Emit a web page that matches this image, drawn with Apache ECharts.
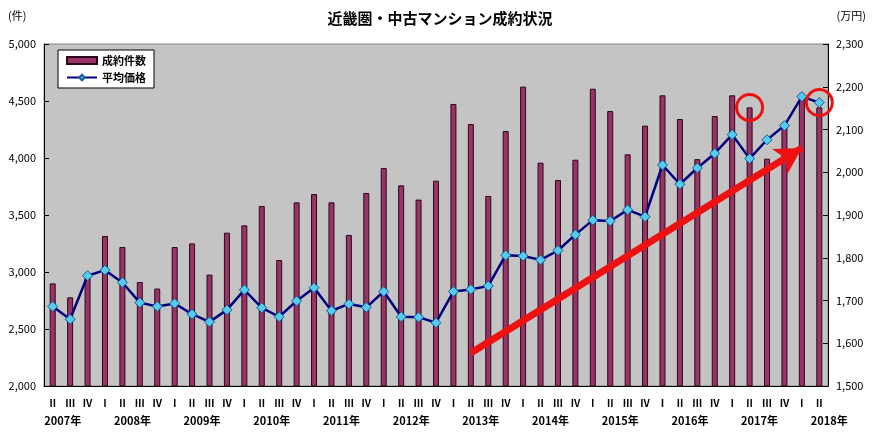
<!DOCTYPE html>
<html><head><meta charset="utf-8">
<script src="https://cdn.jsdelivr.net/npm/echarts@6/dist/echarts.min.js"></script>
<style>html,body{margin:0;padding:0;background:#fff}#c{width:880px;height:437px}</style>
</head><body><div id="c"></div>
<script>
const quarters = ["Ⅱ","Ⅲ","Ⅳ","Ⅰ","Ⅱ","Ⅲ","Ⅳ","Ⅰ","Ⅱ","Ⅲ","Ⅳ","Ⅰ","Ⅱ","Ⅲ","Ⅳ","Ⅰ","Ⅱ","Ⅲ","Ⅳ","Ⅰ","Ⅱ","Ⅲ","Ⅳ","Ⅰ","Ⅱ","Ⅲ","Ⅳ","Ⅰ","Ⅱ","Ⅲ","Ⅳ","Ⅰ","Ⅱ","Ⅲ","Ⅳ","Ⅰ","Ⅱ","Ⅲ","Ⅳ","Ⅰ","Ⅱ","Ⅲ","Ⅳ","Ⅰ","Ⅱ"];
const years = ["2007年","","","","2008年","","","","2009年","","","","2010年","","","","2011年","","","","2012年","","","","2013年","","","","2014年","","","","2015年","","","","2016年","","","","2017年","","","","2018年"];
const deals = [2900,2778,2955,3316,3219,2912,2855,3219,3251,2977,3345,3409,3579,3105,3611,3684,3611,3325,3693,3912,3760,3635,3801,4474,4298,3667,4237,4626,3959,3807,3985,4608,4412,4032,4284,4550,4342,3990,4368,4550,4444,3994,4300,4560,4444];
const prices = [1686,1656,1758,1771,1742,1695,1686,1693,1668,1650,1678,1725,1683,1662,1699,1730,1676,1692,1684,1721,1662,1661,1648,1721,1726,1734,1806,1804,1795,1817,1854,1888,1886,1912,1896,2017,1972,2010,2044,2088,2032,2076,2109,2177,2163];
const cats = quarters.map((q,i)=>i+"");
const chart = echarts.init(document.getElementById('c'));
const F = '"Noto Sans CJK JP", sans-serif';
const ring = {symbol:'circle',symbolSize:26,itemStyle:{color:'rgba(0,0,0,0)',borderColor:'#ee1111',borderWidth:3},label:{show:false}};
chart.setOption({
  animation:false,
  textStyle:{fontFamily:F},
  title:{text:'近畿圏・中古マンション成約状況',left:'center',top:6,textStyle:{fontSize:15,fontWeight:'bold',color:'#000',fontFamily:F}},
  graphic:[
    {type:'text',left:8,top:10,style:{text:'(件)',fill:'#000',font:'11px '+F}},
    {type:'text',right:14,top:10,style:{text:'(万円)',fill:'#000',font:'11px '+F}}
  ],
  legend:{left:58,top:50,orient:'vertical',backgroundColor:'#fff',borderColor:'#000',borderWidth:1,padding:[5,8],itemGap:6,itemWidth:30,itemHeight:7,textStyle:{fontSize:11,fontWeight:'bold',color:'#000'},
    data:[{name:'成約件数',icon:'rect'},{name:'平均価格'}]},
  grid:{left:44,right:52,top:44,bottom:51,backgroundColor:'#c4c4c4',show:true,borderColor:'#888',borderWidth:1},
  xAxis:{type:'category',data:cats,axisTick:{show:false},axisLine:{lineStyle:{color:'#000'}},
    axisLabel:{interval:0,fontSize:10,color:'#000',lineHeight:18,margin:8,fontWeight:'bold',
      formatter:(v)=>{const i=+v;return quarters[i]+(years[i]?'\n{y|'+years[i]+'}':'\n ');},
      rich:{y:{fontSize:11,fontWeight:'bold',padding:[0,0,0,20]}}}},
  yAxis:[
    {type:'value',min:2000,max:5000,interval:500,splitLine:{show:false},axisLine:{show:true,lineStyle:{color:'#000'}},axisTick:{show:true,inside:true},
      axisLabel:{fontSize:11,color:'#000',formatter:v=>v.toLocaleString('en-US')}},
    {type:'value',min:1500,max:2300,interval:100,splitLine:{show:false},axisLine:{show:true,lineStyle:{color:'#000'}},axisTick:{show:true,inside:true},
      axisLabel:{fontSize:11,color:'#000',formatter:v=>v.toLocaleString('en-US')}}
  ],
  series:[
    {name:'成約件数',type:'bar',data:deals,barWidth:6,itemStyle:{color:'#993366',borderColor:'#2a0a1a',borderWidth:1},
      markPoint:Object.assign({data:[{coord:['40',4444]}]},ring)},
    {name:'平均価格',type:'line',yAxisIndex:1,data:prices,symbol:'diamond',symbolSize:10,
      lineStyle:{color:'#000080',width:2.5},itemStyle:{color:'#55ccee',borderColor:'#1a5a9a',borderWidth:1},
      markPoint:Object.assign({data:[{coord:['44',2163]}]},ring),
      markLine:{silent:true,symbol:['none','arrow'],symbolSize:[22,26],lineStyle:{color:'#ee1111',width:7,type:'solid'},label:{show:false},
        data:[[{coord:['24',1577]},{coord:['43',2057]}]]}}
  ]
});
</script></body></html>
